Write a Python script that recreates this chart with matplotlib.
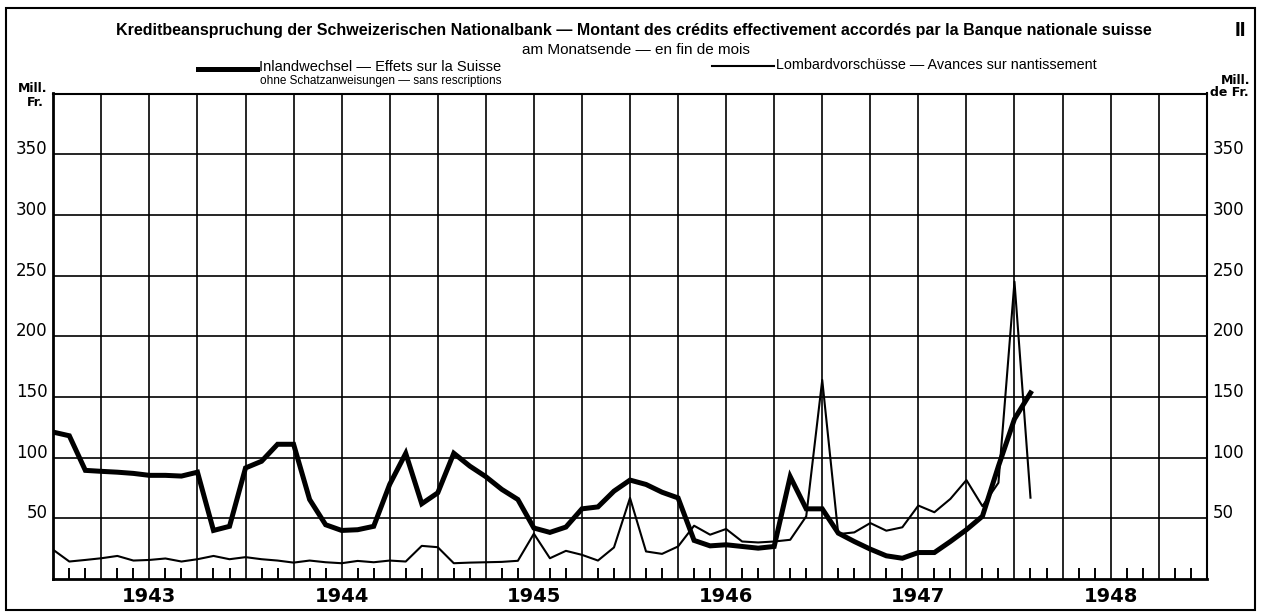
import matplotlib
matplotlib.use("Agg")
import matplotlib.pyplot as plt
from matplotlib.lines import Line2D
from matplotlib.patches import Rectangle
from matplotlib.ticker import MultipleLocator

# Monatsende, Dez. 1942 bis Jan. 1948 (Mio. Fr.)
monate = list(range(62))
inlandwechsel = [121, 118, 89.5, 88.7, 88, 87, 85.4, 85.4, 84.8, 88, 40, 43.4,
                 91.5, 97, 111, 111, 65.5, 44.7, 40, 40.6, 43.4, 78, 103.5, 62,
                 71, 103.6, 93, 84.3, 73.8, 65.5, 42, 38.4, 42.8, 57.8, 59.4, 72.4,
                 81.5, 77.9, 71.5, 66.8, 31.8, 27.3, 28.2, 26.8, 25.4, 26.8, 84.3, 57.8,
                 57.8, 37.8, 30.9, 24.6, 19.1, 17.1, 21.8, 21.8, 30.9, 40.6, 51.7, 93,
                 131.8, 153.3]
lombard = [24, 14.4, 15.7, 17.1, 19, 15.2, 15.7, 16.9, 14.4, 16.3, 19, 16.3,
           18, 16.3, 15.2, 13.5, 15.2, 13.8, 13, 14.9, 13.8, 15.2, 14.4, 27.3,
           26.2, 13, 13.5, 13.8, 14.1, 15, 37.3, 17.1, 23.2, 19.9, 15.2, 26,
           66.8, 22.7, 20.7, 26.8, 43.9, 36.5, 41.2, 30.9, 30.1, 30.9, 32.3, 51.6,
           164, 37, 38.4, 46.1, 39.8, 42.6, 60.5, 55, 66, 81.5, 60, 79.3,
           245, 67]
jahre = [1943, 1944, 1945, 1946, 1947, 1948]
y_ticks = [50, 100, 150, 200, 250, 300, 350]

W, H = 1263, 612
fx = lambda x: x / W
fy = lambda y: 1 - y / H

fig = plt.figure(figsize=(W / 100, H / 100), dpi=100)
ax = fig.add_axes([fx(53.3), fy(579), fx(1206.7) - fx(53.3), fy(93.5) - fy(579)])

ax.plot(monate, inlandwechsel, color="black", lw=3.6, solid_joinstyle="miter", zorder=4)
ax.plot(monate, lombard, color="black", lw=1.5, zorder=3)

ax.set_xlim(0, 72)
ax.set_ylim(0, 400)
ax.xaxis.set_major_locator(MultipleLocator(3))
ax.xaxis.set_minor_locator(MultipleLocator(1))
ax.set_xticklabels([])
ax.tick_params(axis="x", which="major", length=0)
ax.tick_params(axis="x", which="minor", direction="in", length=8, width=1.4, color="black")
ax.set_yticks(y_ticks)
ax.tick_params(axis="y", length=0, labelsize=12, labelright=True, pad=4)
for t in ax.get_yticklabels(which="both"):
    t.set_va("baseline")
ax.grid(True, which="major", color="black", lw=1.2)
for s in ax.spines.values():
    s.set_linewidth(1.5)
ax.spines["left"].set_linewidth(2)
ax.spines["bottom"].set_linewidth(2)

for i, j in enumerate(jahre):
    ax.text(6 + 12 * i, -0.037, str(j), transform=ax.get_xaxis_transform(),
            ha="center", va="center", fontsize=14, fontweight="bold")

# Rahmen und Kopf
fig.add_artist(Rectangle((fx(6), fy(610)), fx(1255) - fx(6), fy(8) - fy(610),
                         transform=fig.transFigure, fill=False, lw=1.5, color="black"))

renderer = fig.canvas.get_renderer()


def fit(t, width_px):
    # Schriftgrösse so wählen, dass die Breite der Vorlage entspricht
    w = t.get_window_extent(renderer).width
    t.set_fontsize(t.get_fontsize() * width_px / w)


title = fig.text(fx(634), fy(31),
                 "Kreditbeanspruchung der Schweizerischen Nationalbank — Montant des crédits "
                 "effectivement accordés par la Banque nationale suisse",
                 ha="center", va="center", fontsize=14, fontweight="bold",
                 family="Liberation Sans")
fit(title, 1037)
fig.text(fx(1240), fy(31), "II", ha="center", va="center", fontsize=15,
         fontweight="bold", family="Liberation Sans")
fig.text(fx(636), fy(50), "am Monatsende — en fin de mois", ha="center", va="center",
         fontsize=11, family="Liberation Sans")

fig.add_artist(Line2D([fx(198), fx(257)], [fy(69), fy(69)], color="black", lw=3.6))
t1 = fig.text(fx(259), fy(67), "Inlandwechsel — Effets sur la Suisse", ha="left",
              va="center", fontsize=10, family="Liberation Sans")
fit(t1, 242)
t2 = fig.text(fx(260), fy(81), "ohne Schatzanweisungen — sans rescriptions", ha="left",
              va="center", fontsize=7.5, family="Liberation Sans")
fit(t2, 241)
fig.add_artist(Line2D([fx(712), fx(774)], [fy(66), fy(66)], color="black", lw=1.5))
t3 = fig.text(fx(776), fy(65), "Lombardvorschüsse — Avances sur nantissement", ha="left",
              va="center", fontsize=10.5, family="Liberation Sans")
fit(t3, 323)

fig.text(fx(33), fy(88), "Mill.", ha="center", va="center", fontsize=9, fontweight="bold")
fig.text(fx(35), fy(102), "Fr.", ha="center", va="center", fontsize=9, fontweight="bold")
fig.text(fx(1236), fy(80), "Mill.", ha="center", va="center", fontsize=9, fontweight="bold")
fig.text(fx(1229), fy(93), "de Fr.", ha="center", va="center", fontsize=9, fontweight="bold")

fig.savefig("out.png", dpi=100)
